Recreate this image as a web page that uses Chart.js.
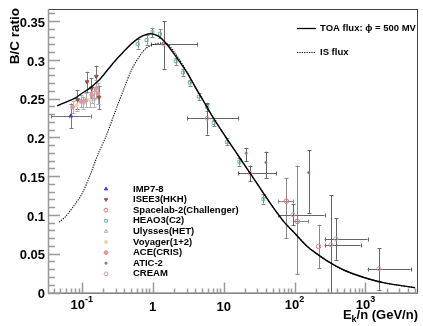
<!DOCTYPE html>
<html>
<head>
<meta charset="utf-8">
<script src="https://cdn.jsdelivr.net/npm/chart.js@4.4.1/dist/chart.umd.min.js"></script>
<style>
  html, body { margin: 0; padding: 0; background: #fff; }
  #wrap { width: 423px; height: 326px; }
</style>
</head>
<body>
<div id="wrap"><canvas id="c" width="423" height="326"></canvas></div>
<script>
// Axis ranges and tick labels
const xRange = [0.0334, 5500];
const yRange = [0, 0.367];
const xMajorTicks = [0.1, 1, 10, 100, 1000];
const xTickLabels = [['10', '-1'], ['1', ''], ['10', ''], ['10', '2'], ['10', '3']];
const yTicks = [0, 0.05, 0.1, 0.15, 0.2, 0.25, 0.3, 0.35];
const yTickLabels = ['0', '0.05', '0.1', '0.15', '0.2', '0.25', '0.3', '0.35'];

// Model curves: kinetic energy per nucleon (GeV/n) and B/C ratio
const toaE  = [0.045, 0.06, 0.08, 0.1, 0.13, 0.17, 0.22, 0.3, 0.4, 0.5, 0.65, 0.8, 0.95, 1.2, 1.5, 2, 3, 4, 5, 7, 10, 15, 20, 30, 50, 70, 100, 150, 200, 300, 500, 1000, 2000, 5000];
const toaBC = [0.242, 0.247, 0.252, 0.258, 0.265, 0.274, 0.286, 0.301, 0.313, 0.322, 0.330, 0.334, 0.335, 0.332, 0.324, 0.309, 0.286, 0.266, 0.251, 0.228, 0.206, 0.182, 0.165, 0.141, 0.111, 0.093, 0.078, 0.061, 0.052, 0.041, 0.030, 0.020, 0.013, 0.0075];
const isE   = [0.048, 0.06, 0.08, 0.1, 0.13, 0.17, 0.22, 0.3, 0.4, 0.5, 0.65, 0.8, 1.0, 1.3, 1.6, 2, 3, 4, 5, 7, 10, 15, 20, 30, 50, 70, 100, 150, 200, 300, 500, 1000, 2000, 5000];
const isBC  = [0.092, 0.100, 0.115, 0.128, 0.152, 0.180, 0.203, 0.236, 0.266, 0.288, 0.306, 0.316, 0.321, 0.323, 0.322, 0.312, 0.287, 0.266, 0.251, 0.228, 0.206, 0.182, 0.165, 0.141, 0.111, 0.093, 0.078, 0.061, 0.052, 0.041, 0.030, 0.020, 0.013, 0.0075];

// Measurements: [E, B/C, Emin, Emax, B/C min, B/C max]
const imp78 = [[0.070, 0.229, 0.037, 0.134, 0.213, 0.245]];
const isee3 = [
  [0.087, 0.250, 0.087, 0.087, 0.238, 0.262],
  [0.119, 0.273, 0.119, 0.119, 0.260, 0.286],
  [0.137, 0.265, 0.137, 0.137, 0.252, 0.278],
  [0.160, 0.280, 0.160, 0.160, 0.266, 0.294],
  [0.175, 0.253, 0.175, 0.175, 0.238, 0.268]
];
const spacelab2 = [
  [76.6, 0.119, 59, 95, 0.0716, 0.149],
  [109, 0.093, 95, 157, 0.025, 0.165],
  [218, 0.0607, 218, 218, 0.0329, 0.0887]
];
const heao3 = [
  [0.613, 0.322, 0.613, 0.613, 0.316, 0.328],
  [0.82, 0.327, 0.82, 0.82, 0.321, 0.333],
  [0.99, 0.337, 0.99, 0.99, 0.331, 0.343],
  [1.26, 0.335, 1.26, 1.26, 0.329, 0.341],
  [2.11, 0.2995, 2.11, 2.11, 0.295, 0.304],
  [2.67, 0.285, 2.67, 2.67, 0.281, 0.289],
  [3.34, 0.272, 3.34, 3.34, 0.268, 0.276],
  [4.47, 0.254, 4.47, 4.47, 0.250, 0.258],
  [5.84, 0.2406, 5.84, 5.84, 0.236, 0.245],
  [7.24, 0.220, 7.24, 7.24, 0.216, 0.224],
  [11.1, 0.1954, 11.1, 11.1, 0.191, 0.200],
  [16.7, 0.170, 16.7, 16.7, 0.165, 0.175],
  [36.3, 0.1219, 36.3, 36.3, 0.116, 0.128]
];
const ulysses = [
  [0.105, 0.246, 0.105, 0.105, 0.238, 0.254],
  [0.150, 0.251, 0.150, 0.150, 0.241, 0.261]
];
const voyager = [
  [0.085, 0.243, 0.085, 0.085, 0.236, 0.250],
  [0.130, 0.250, 0.130, 0.130, 0.240, 0.260]
];
const ace = [
  [0.074, 0.2405, 0.074, 0.074, 0.233, 0.248],
  [0.097, 0.248, 0.097, 0.097, 0.240, 0.256],
  [0.114, 0.249, 0.114, 0.114, 0.240, 0.258],
  [0.138, 0.256, 0.138, 0.138, 0.246, 0.266],
  [0.157, 0.264, 0.157, 0.157, 0.252, 0.276],
  [0.168, 0.258, 0.168, 0.168, 0.244, 0.272]
];
const atic2 = [
  [20.8, 0.181, 20.8, 20.8, 0.171, 0.188],
  [39.5, 0.169, 39.5, 39.5, 0.149, 0.183],
  [158, 0.156, 158, 158, 0.104, 0.185]
];
const cream = [
  [1.42, 0.322, 0.94, 4.2, 0.290, 0.351],
  [5.84, 0.226, 3.07, 16.2, 0.205, 0.246],
  [23.6, 0.155, 16.2, 55.6, 0.145, 0.165],
  [95, 0.1016, 59, 265, 0.088, 0.115],
  [326, 0.063, 265, 856, 0.0, 0.127],
  [383, 0.0706, 265, 1070, 0.0435, 0.097],
  [1560, 0.032, 1070, 4330, 0.0048, 0.0586]
];

const FONT = '"Liberation Sans", Arial, Helvetica, sans-serif';

function curve(label, es, vs, dash, width) {
  return {
    type: 'line', label, data: es.map((e, i) => ({ x: e, y: vs[i] })),
    borderColor: '#000', borderWidth: width, borderDash: dash,
    pointRadius: 0, fill: false, tension: 0.3, showLine: true
  };
}
function points(label, rows, style, color, filled, radius, errColor, rotation) {
  return {
    label, errors: rows, errColor,
    data: rows.map(r => ({ x: r[0], y: r[1] })),
    pointStyle: style, pointRadius: radius, pointRotation: rotation || 0,
    pointBorderColor: color, pointBackgroundColor: filled ? color : 'rgba(0,0,0,0)',
    pointBorderWidth: 1, showLine: false
  };
}

const expSets = [
  points('IMP7-8', imp78, 'triangle', '#4646d2', true, 2.2, '#777'),
  points('ISEE3(HKH)', isee3, 'triangle', '#8e5444', true, 2.2, '#777', 180),
  points('Spacelab-2(Challenger)', spacelab2, 'circle', '#e27878', false, 2.3, '#888'),
  points('HEAO3(C2)', heao3, 'rect', '#6cb5a8', false, 2.1, '#888'),
  points('Ulysses(HET)', ulysses, 'triangle', '#9ab4cc', false, 2.2, '#b0b0b0'),
  points('Voyager(1+2)', voyager, 'rectRot', '#eed2b6', true, 2.0, '#b0b0b0'),
  points('ACE(CRIS)', ace, 'circle', '#e4959c', true, 2.0, '#b0b0b0'),
  points('ATIC-2', atic2, 'circle', '#a86a78', true, 1.1, '#666'),
  points('CREAM', cream, 'circle', '#d89696', false, 2.0, '#666')
];

const rootStyle = {
  id: 'rootStyle',
  beforeDatasetsDraw(chart) {
    const ctx = chart.ctx, xs = chart.scales.x, ys = chart.scales.y, a = chart.chartArea;
    ctx.save();
    ctx.beginPath(); ctx.rect(a.left, a.top, a.right - a.left, a.bottom - a.top); ctx.clip();
    ctx.lineWidth = 1;
    chart.data.datasets.forEach(ds => {
      if (!ds.errors) return;
      ctx.strokeStyle = ds.errColor;
      ds.errors.forEach(r => {
        const px = Math.round(xs.getPixelForValue(r[0])) + 0.5, py = Math.round(ys.getPixelForValue(r[1])) + 0.5;
        const x0 = xs.getPixelForValue(r[2]), x1 = xs.getPixelForValue(r[3]);
        const y0 = ys.getPixelForValue(r[4]), y1 = ys.getPixelForValue(r[5]);
        ctx.beginPath();
        if (Math.abs(x1 - x0) > 1) {
          ctx.moveTo(x0, py); ctx.lineTo(x1, py);
          ctx.moveTo(Math.round(x0) + 0.5, py - 2); ctx.lineTo(Math.round(x0) + 0.5, py + 2);
          ctx.moveTo(Math.round(x1) + 0.5, py - 2); ctx.lineTo(Math.round(x1) + 0.5, py + 2);
        }
        if (Math.abs(y1 - y0) > 1) {
          ctx.moveTo(px, y0); ctx.lineTo(px, y1);
          ctx.moveTo(px - 2, Math.round(y0) + 0.5); ctx.lineTo(px + 2, Math.round(y0) + 0.5);
          ctx.moveTo(px - 2, Math.round(y1) + 0.5); ctx.lineTo(px + 2, Math.round(y1) + 0.5);
        }
        ctx.stroke();
      });
    });
    ctx.restore();
  },
  afterDatasetsDraw(chart) {
    const ctx = chart.ctx, xs = chart.scales.x, ys = chart.scales.y, a = chart.chartArea;
    ctx.save();
    // frame
    ctx.strokeStyle = '#444'; ctx.lineWidth = 1;
    ctx.strokeRect(Math.round(a.left) + 0.5, Math.round(a.top) + 0.5,
                   Math.round(a.right - a.left) - 1, Math.round(a.bottom - a.top) - 1);
    ctx.strokeStyle = '#999'; ctx.lineWidth = 1.5;
    ctx.beginPath();
    ctx.moveTo(a.left + 0.5, a.top); ctx.lineTo(a.left + 0.5, a.bottom);
    ctx.moveTo(a.left, a.bottom - 0.5); ctx.lineTo(a.right, a.bottom - 0.5);
    ctx.stroke();

    // y ticks: major every 0.05, minor every 0.01
    ctx.strokeStyle = '#999'; ctx.lineWidth = 1.5;
    ctx.beginPath();
    for (let k = 0; k * 0.01 <= yRange[1] + 1e-9; k++) {
      const py = Math.round(ys.getPixelForValue(k * 0.01)) - 0.5;
      const len = (k % 5 === 0) ? 12 : 7;
      ctx.moveTo(a.left, py); ctx.lineTo(a.left + len, py);
    }
    ctx.stroke();

    // x ticks: decades and 2..9 subdivisions
    ctx.beginPath();
    for (let d = -2; d <= 3; d++) {
      for (let m = 1; m <= 9; m++) {
        const v = m * Math.pow(10, d);
        if (v < xRange[0] || v > xRange[1]) continue;
        const px = Math.round(xs.getPixelForValue(v)) + 0.5;
        const len = (m === 1) ? 11 : 5;
        ctx.moveTo(px, a.bottom); ctx.lineTo(px, a.bottom - len);
      }
    }
    ctx.stroke();

    // y tick labels
    ctx.fillStyle = '#000';
    ctx.font = 'bold 13px ' + FONT;
    ctx.textAlign = 'right'; ctx.textBaseline = 'middle';
    yTicks.forEach((v, i) => ctx.fillText(yTickLabels[i], a.left - 3, ys.getPixelForValue(v) + 1));

    // x tick labels
    xMajorTicks.forEach((v, i) => {
      const px = xs.getPixelForValue(v);
      const [base, exp] = xTickLabels[i];
      ctx.textBaseline = 'alphabetic';
      if (!exp) {
        ctx.font = 'bold 13px ' + FONT; ctx.textAlign = 'center';
        ctx.fillText(base, px, 311);
      } else {
        ctx.font = 'bold 13px ' + FONT;
        const wb = ctx.measureText(base).width;
        ctx.font = 'bold 9px ' + FONT;
        const we = ctx.measureText(exp).width;
        const x0 = px - (wb + we) / 2;
        ctx.textAlign = 'left';
        ctx.font = 'bold 13px ' + FONT;
        ctx.fillText(base, x0, 309);
        ctx.font = 'bold 9px ' + FONT;
        ctx.fillText(exp, x0 + wb, 302);
      }
    });

    // axis titles
    ctx.textBaseline = 'alphabetic';
    ctx.font = 'bold 13px ' + FONT;
    const tail = '/n (GeV/n)';
    const wTail = ctx.measureText(tail).width;
    const wE = ctx.measureText('E').width;
    ctx.font = 'bold 9px ' + FONT;
    const wK = ctx.measureText('k').width;
    let tx = a.right - wTail - wK - wE, ty = 319;
    ctx.textAlign = 'left';
    ctx.font = 'bold 13px ' + FONT; ctx.fillText('E', tx, ty);
    ctx.font = 'bold 9px ' + FONT; ctx.fillText('k', tx + wE, ty + 3);
    ctx.font = 'bold 13px ' + FONT; ctx.fillText(tail, tx + wE + wK, ty);

    ctx.save();
    ctx.translate(19, a.top - 1); ctx.rotate(-Math.PI / 2);
    ctx.font = 'bold 13.5px ' + FONT; ctx.textAlign = 'right';
    ctx.fillText('B/C ratio', 0, 0);
    ctx.restore();

    // model legend
    ctx.strokeStyle = '#000';
    ctx.lineWidth = 1.3; ctx.setLineDash([]);
    ctx.beginPath(); ctx.moveTo(297, 28.5); ctx.lineTo(316, 28.5); ctx.stroke();
    ctx.lineWidth = 1; ctx.setLineDash([1.2, 1.2]);
    ctx.beginPath(); ctx.moveTo(297, 52.5); ctx.lineTo(316, 52.5); ctx.stroke();
    ctx.setLineDash([]);
    ctx.fillStyle = '#000';
    ctx.font = 'bold 9.5px ' + FONT; ctx.textAlign = 'left'; ctx.textBaseline = 'middle';
    ctx.fillText('TOA flux: \u03D5 = 500 MV', 320, 28.5);
    ctx.fillText('IS flux', 320, 52.5);

    // experiment legend
    expSets.forEach((ds, i) => {
      const y = 189 + i * 10.6;
      ctx.save();
      ctx.fillStyle = ds.pointBackgroundColor; ctx.strokeStyle = ds.pointBorderColor; ctx.lineWidth = 1;
      Chart.helpers.drawPoint(ctx, { pointStyle: ds.pointStyle, radius: ds.pointRadius < 1.5 ? 1.1 : 1.9,
        rotation: ds.pointRotation, borderWidth: 1 }, 106, y);
      ctx.restore();
      ctx.fillStyle = '#000';
      ctx.font = 'bold 9.5px ' + FONT; ctx.textAlign = 'left'; ctx.textBaseline = 'middle';
      ctx.fillText(ds.label, 133, y);
    });
    ctx.restore();
  }
};

new Chart(document.getElementById('c'), {
  type: 'scatter',
  data: {
    datasets: [
      curve('TOA flux', toaE, toaBC, [], 1.4),
      curve('IS flux', isE, isBC, [1.2, 1.2], 1.1),
      ...expSets
    ]
  },
  options: {
    responsive: false, animation: false, devicePixelRatio: 1,
    layout: { padding: { left: 48, top: 9, right: 2, bottom: 32.5 } },
    scales: {
      x: { type: 'logarithmic', min: xRange[0], max: xRange[1], display: false },
      y: { type: 'linear', min: yRange[0], max: yRange[1], display: false }
    },
    plugins: { legend: { display: false }, tooltip: { enabled: false } }
  },
  plugins: [rootStyle]
});
</script>
</body>
</html>
